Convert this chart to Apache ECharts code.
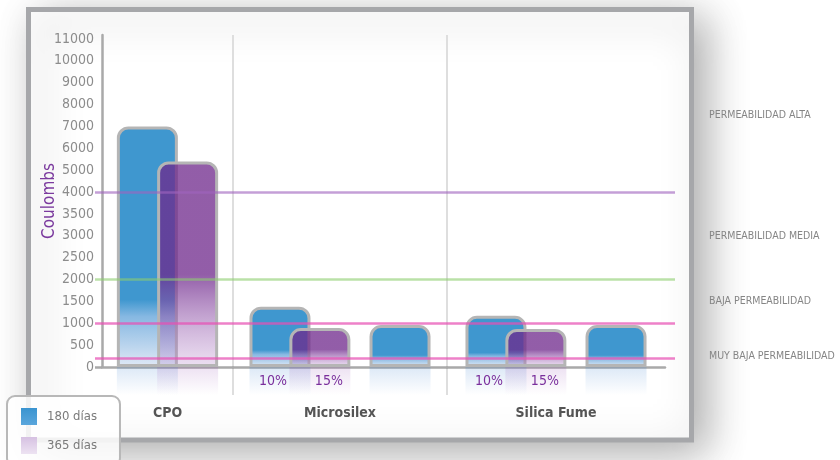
<!DOCTYPE html>
<html>
<head>
<meta charset="utf-8">
<script src="https://cdn.jsdelivr.net/npm/echarts@6/dist/echarts.min.js"></script>
<style>html,body{margin:0;padding:0;background:#fff;}#c{width:840px;height:460px;}</style>
</head>
<body>
<div id="c"></div>
<script>
// ---- data ----
const categories = ['CPO', 'Microsilex', 'Silica Fume'];
const days180 = [7000, 1380, 1170];
const days365 = [5400, 890, 870];
const thirdBar = [null, 960, 960];
const pctLabelA = ['', '10%', '10%'];
const pctLabelB = ['', '15%', '15%'];
const yTickLabels = [0, 500, 1000, 1500, 2000, 2500, 3000, 3500, 4000, 5000, 6000, 7000, 8000, 9000, 10000, 11000];
const thresholds = [4000, 2000, 1000, 200];
const zoneNames = ['PERMEABILIDAD ALTA', 'PERMEABILIDAD MEDIA', 'BAJA PERMEABILIDAD', 'MUY BAJA PERMEABILIDAD'];
const zoneBounds = [[4000, 11000], [2000, 4000], [1000, 2000], [0, 500]];
const legendNames = ['180 días', '365 días'];

// ---- piecewise axis: 500 per step up to 4000, then 1000 per step ----
function toAxis(v) {
  if (v == null) return null;
  return v <= 4000 ? v / 500 : 8 + (v - 4000) / 1000;
}

// ---- layout / style ----
const F = "'DejaVu Sans Condensed','Liberation Sans Narrow','Roboto',sans-serif";
const cols = [{left: 102, width: 131}, {left: 233, width: 214}, {left: 447, width: 218}];
const upTop = 35, upBottom = 93, yMax = 15.18;
const lowTop = 367, lowH = 28;
const BW = 61;
const blue = '#3f97cf';
const gradBlue = {type: 'linear', x: 0, y: 0, x2: 0, y2: 1, colorStops: [
  {offset: 0, color: blue}, {offset: 0.72, color: blue}, {offset: 0.79, color: '#86b8e2'}, {offset: 1, color: '#e0e9f6'}]};
const gradPurple = {type: 'linear', x: 0, y: 0, x2: 0, y2: 1, colorStops: [
  {offset: 0, color: 'rgba(110,39,139,0.75)'}, {offset: 0.55, color: 'rgba(110,39,139,0.75)'}, {offset: 1, color: 'rgba(185,140,205,0.28)'}]};
const reflBlue = {type: 'linear', x: 0, y: 0, x2: 0, y2: 1, colorStops: [
  {offset: 0, color: 'rgba(63,130,207,0.18)'}, {offset: 1, color: 'rgba(63,130,207,0)'}]};
const reflPurple = {type: 'linear', x: 0, y: 0, x2: 0, y2: 1, colorStops: [
  {offset: 0, color: 'rgba(150,80,180,0.17)'}, {offset: 1, color: 'rgba(150,80,180,0)'}]};
const lineColors = ['rgba(160,100,190,0.62)', 'rgba(140,205,110,0.6)', 'rgba(232,80,180,0.72)', 'rgba(232,80,180,0.72)'];
const barBorder = {borderColor: '#b5b5b5', borderWidth: 3, borderRadius: [10, 10, 0, 0]};

const grid = [], xAxis = [], yAxis = [], series = [];

cols.forEach(c => {
  grid.push({left: c.left, width: c.width, top: upTop, bottom: upBottom});   // bars
  grid.push({left: c.left, width: c.width, top: lowTop, height: lowH});      // reflections
});
grid.push({left: 95, width: 580, top: upTop, bottom: upBottom});              // threshold overlay

function splitLineCfg(g) {
  return {show: g < 2, showMinLine: false, showMaxLine: true, lineStyle: {color: '#dedede', width: 2}};
}

cols.forEach((c, g) => {
  const gu = g * 2, gl = g * 2 + 1;
  const xu = xAxis.length;
  xAxis.push({type: 'category', gridIndex: gu, data: [categories[g]],
    axisLine: {show: true, lineStyle: {color: '#a9a9a9', width: 2.5}},
    axisTick: {show: false}, axisLabel: {show: false}, splitLine: splitLineCfg(g)});
  const xu2 = xAxis.length;
  xAxis.push({type: 'category', gridIndex: gu, data: [categories[g]], show: false});
  const xl = xAxis.length;
  xAxis.push({type: 'category', gridIndex: gl, data: [categories[g]], position: 'bottom',
    axisLine: {show: false}, axisTick: {show: false},
    axisLabel: {show: true, margin: 11, color: '#555', fontSize: 14, fontWeight: 'bold', fontFamily: F},
    splitLine: splitLineCfg(g)});
  const xl2 = xAxis.length;
  xAxis.push({type: 'category', gridIndex: gl, data: [categories[g]], show: false});

  const yu = yAxis.length;
  if (g === 0) {
    yAxis.push({type: 'value', gridIndex: gu, min: 0, max: yMax, interval: 1,
      name: 'Coulombs', nameLocation: 'middle', nameGap: 44, nameMoveOverlap: false,
      nameTextStyle: {color: '#7b3a9e', fontSize: 17, fontFamily: F},
      axisLine: {show: true, lineStyle: {color: '#a9a9a9', width: 2.5}},
      axisTick: {show: true, customValues: [0], length: 7, lineStyle: {color: '#a9a9a9', width: 2.5}},
      axisLabel: {show: true, customValues: yTickLabels.map((_, i) => i), margin: 8,
        formatter: v => String(yTickLabels[Math.round(v)]), color: '#8c8c8c', fontSize: 14, fontFamily: F},
      splitLine: {show: false}});
  } else {
    yAxis.push({type: 'value', gridIndex: gu, min: 0, max: yMax, interval: 1, show: false, splitLine: {show: false}});
  }
  const yl = yAxis.length;
  yAxis.push({type: 'value', gridIndex: gl, min: 0, max: 1, inverse: true, show: false, splitLine: {show: false}});

  const pa = pctLabelA[g], pb = pctLabelB[g];
  const has = v => (v != null ? 1 : null);
  const lblA = {show: !!pa, position: 'inside', formatter: () => pa, offset: [-7, 0], color: '#7a2f9c', fontSize: 14, fontFamily: F};
  const lblB = {show: !!pb, position: 'inside', formatter: () => pb, offset: [9, 0], color: '#7a2f9c', fontSize: 14, fontFamily: F};

  if (thirdBar[g] == null) {
    series.push({type: 'bar', name: legendNames[0], xAxisIndex: xu, yAxisIndex: yu, barWidth: BW, barGap: '-34%',
      data: [toAxis(days180[g])], itemStyle: Object.assign({color: gradBlue}, barBorder), z: 2});
    series.push({type: 'bar', name: legendNames[1], xAxisIndex: xu, yAxisIndex: yu, barWidth: BW, barGap: '-34%',
      data: [toAxis(days365[g])], itemStyle: Object.assign({color: gradPurple}, barBorder), z: 3});
    series.push({type: 'bar', name: legendNames[0], xAxisIndex: xl, yAxisIndex: yl, barWidth: BW, barGap: '-34%',
      data: [has(days180[g])], itemStyle: {color: reflBlue}, silent: true, label: lblA});
    series.push({type: 'bar', name: legendNames[1], xAxisIndex: xl, yAxisIndex: yl, barWidth: BW, barGap: '-34%',
      data: [has(days365[g])], itemStyle: {color: reflPurple}, silent: true, label: lblB});
  } else {
    const gA = '-1.6%';
    series.push({type: 'bar', name: legendNames[0], xAxisIndex: xu, yAxisIndex: yu, barWidth: BW, barGap: gA,
      data: [toAxis(days180[g])], itemStyle: Object.assign({color: gradBlue}, barBorder), z: 2});
    series.push({type: 'bar', xAxisIndex: xu, yAxisIndex: yu, barWidth: BW, barGap: gA, data: [null]});
    series.push({type: 'bar', name: legendNames[0], xAxisIndex: xu, yAxisIndex: yu, barWidth: BW, barGap: gA,
      data: [toAxis(thirdBar[g])], itemStyle: Object.assign({color: gradBlue}, barBorder), z: 2});
    series.push({type: 'bar', name: legendNames[1], xAxisIndex: xu2, yAxisIndex: yu, barWidth: BW, barGap: '-34%',
      data: [toAxis(days365[g])], itemStyle: Object.assign({color: gradPurple}, barBorder), z: 3});
    series.push({type: 'bar', xAxisIndex: xu2, yAxisIndex: yu, barWidth: BW, barGap: '-34%', data: [null]});
    series.push({type: 'bar', name: legendNames[0], xAxisIndex: xl, yAxisIndex: yl, barWidth: BW, barGap: gA,
      data: [has(days180[g])], itemStyle: {color: reflBlue}, silent: true, label: lblA});
    series.push({type: 'bar', xAxisIndex: xl, yAxisIndex: yl, barWidth: BW, barGap: gA, data: [null]});
    series.push({type: 'bar', name: legendNames[0], xAxisIndex: xl, yAxisIndex: yl, barWidth: BW, barGap: gA,
      data: [has(thirdBar[g])], itemStyle: {color: reflBlue}, silent: true});
    series.push({type: 'bar', name: legendNames[1], xAxisIndex: xl2, yAxisIndex: yl, barWidth: BW, barGap: '-34%',
      data: [has(days365[g])], itemStyle: {color: reflPurple}, silent: true, label: lblB, z: 3});
    series.push({type: 'bar', xAxisIndex: xl2, yAxisIndex: yl, barWidth: BW, barGap: '-34%', data: [null]});
  }
});

const xo = xAxis.length;
xAxis.push({type: 'value', gridIndex: 6, min: 0, max: 1, show: false});
const yo = yAxis.length;
yAxis.push({type: 'value', gridIndex: 6, min: 0, max: yMax, show: false, splitLine: {show: false}});

series.push({
  type: 'line', xAxisIndex: xo, yAxisIndex: yo, data: [], z: 6, silent: true,
  markLine: {silent: true, symbol: 'none', label: {show: false},
    data: thresholds.map((t, i) => ({yAxis: toAxis(t), lineStyle: {color: lineColors[i], width: 2.5, type: 'solid'}}))},
  markArea: {silent: true, itemStyle: {color: 'rgba(0,0,0,0)'},
    label: {show: true, position: 'right', distance: 34, color: '#858585', fontSize: 10.5, fontFamily: F},
    data: zoneBounds.map((b, i) => [{name: zoneNames[i], yAxis: toAxis(b[0])}, {yAxis: toAxis(b[1])}])}
});

const option = {
  animation: false,
  backgroundColor: '#fff',
  graphic: [{
    type: 'rect', z: -10, silent: true,
    shape: {x: 28.5, y: 9.5, width: 663, height: 430.5},
    style: {fill: '#fff', stroke: '#a6a7aa', lineWidth: 5,
      shadowBlur: 40, shadowColor: 'rgba(0,0,0,0.32)', shadowOffsetX: 12, shadowOffsetY: 10}
  }],
  legend: {
    orient: 'vertical', left: 7, top: 396, height: 80, padding: [12, 23, 12, 14],
    icon: 'rect', itemWidth: 16, itemHeight: 17, itemGap: 12,
    backgroundColor: 'rgba(255,255,255,0.85)', borderColor: '#b8b8b8', borderWidth: 2, borderRadius: 8,
    selectedMode: false,
    textStyle: {color: '#7a7a7a', fontSize: 13, fontFamily: F, padding: [0, 0, 0, 5]},
    data: [
      {name: legendNames[0], itemStyle: {borderWidth: 0, color: {type: 'linear', x: 0, y: 0, x2: 0, y2: 1,
        colorStops: [{offset: 0, color: '#3a94d0'}, {offset: 1, color: '#5aa6dc'}]}}},
      {name: legendNames[1], itemStyle: {borderWidth: 0, color: {type: 'linear', x: 0, y: 0, x2: 0, y2: 1,
        colorStops: [{offset: 0, color: '#d6c1e2'}, {offset: 1, color: '#ede3f2'}]}}}
    ]
  },
  grid, xAxis, yAxis, series
};

const chart = echarts.init(document.getElementById('c'), null, {renderer: 'canvas'});
chart.setOption(option);
</script>
</body>
</html>
